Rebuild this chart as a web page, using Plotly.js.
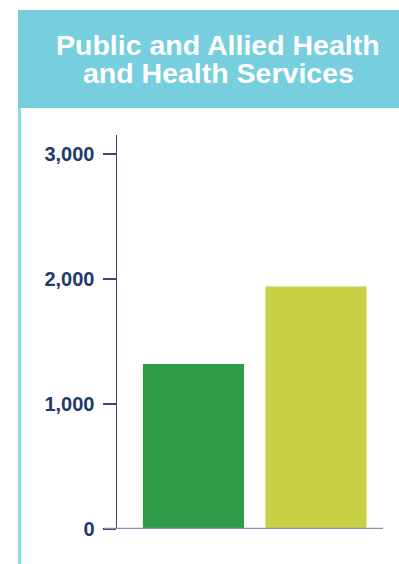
<!DOCTYPE html>
<html>
<head>
<meta charset="utf-8">
<script src="https://cdn.plot.ly/plotly-3.0.1.min.js"></script>
<style>
  html, body { margin: 0; padding: 0; background: #ffffff; }
  #chart { width: 399px; height: 564px; }
</style>
</head>
<body>
<div id="chart"></div>
<script>
// Data
const categories = ["Series A", "Series B"];
const values = [1320, 1940];
const barColors = ["#2E9B47", "#C8D044"];
const titleLines = ["Public and Allied Health", "and Health Services"];
const tickValues = [0, 1000, 2000, 3000];
const tickLabels = ["0", "1,000", "2,000", "3,000"];

const W = 399, H = 564;
const L = 117, R = 16, T = 135, B = 35;
const pw = W - L - R, ph = H - T - B;
const px = x => (x - L) / pw;
const py = y => (H - B - y) / ph;

const trace = {
  type: "bar",
  x: categories,
  y: values,
  marker: { color: barColors, line: { width: 0 } },
  width: 0.825,
  hoverinfo: "none"
};

const layout = {
  width: W, height: H,
  margin: { l: L, r: R, t: T, b: B, pad: 0 },
  paper_bgcolor: "#ffffff",
  plot_bgcolor: "#ffffff",
  showlegend: false,
  xaxis: {
    type: "category",
    range: [-0.624, 1.547],
    showticklabels: false,
    ticks: "",
    showgrid: false,
    zeroline: false,
    showline: false,
    fixedrange: true
  },
  yaxis: {
    range: [0, ph / 125 * 1000],
    tickvals: tickValues,
    ticktext: tickLabels,
    ticks: "outside",
    ticklen: 13,
    tickwidth: 1.5,
    tickcolor: "#3A4A78",
    ticklabelstandoff: 4,
    showgrid: false,
    zeroline: false,
    showline: true,
    linecolor: "#3A4A78",
    linewidth: 1.5,
    tickfont: { family: "Liberation Sans, Arial, sans-serif", size: 20, color: "#1F3A6B", weight: "bold" },
    fixedrange: true
  },
  shapes: [
    { type: "rect", xref: "paper", yref: "paper", x0: px(18), x1: px(399), y0: py(108), y1: py(10),
      fillcolor: "#76CEDE", line: { width: 0 }, layer: "below" },
    { type: "rect", xref: "paper", yref: "paper", x0: px(18), x1: px(21), y0: py(564), y1: py(108),
      fillcolor: "#8FD8E8", line: { width: 0 }, layer: "below" },
    { type: "line", xref: "paper", yref: "y", x0: px(104), x1: px(383), y0: 0, y1: 0,
      line: { color: "#8592AE", width: 2.5 }, layer: "above" }
  ],
  annotations: [
    { xref: "paper", yref: "paper", x: px(218), y: py(45.5), xanchor: "center", yanchor: "middle",
      text: "<b>" + titleLines[0] + "</b>", showarrow: false,
      font: { family: "Liberation Sans, Arial, sans-serif", size: 28.5, color: "#ffffff" } },
    { xref: "paper", yref: "paper", x: px(218), y: py(73.5), xanchor: "center", yanchor: "middle",
      text: "<b>" + titleLines[1] + "</b>", showarrow: false,
      font: { family: "Liberation Sans, Arial, sans-serif", size: 28.5, color: "#ffffff" } }
  ]
};

Plotly.newPlot("chart", [trace], layout, { displayModeBar: false, staticPlot: true });
</script>
</body>
</html>
